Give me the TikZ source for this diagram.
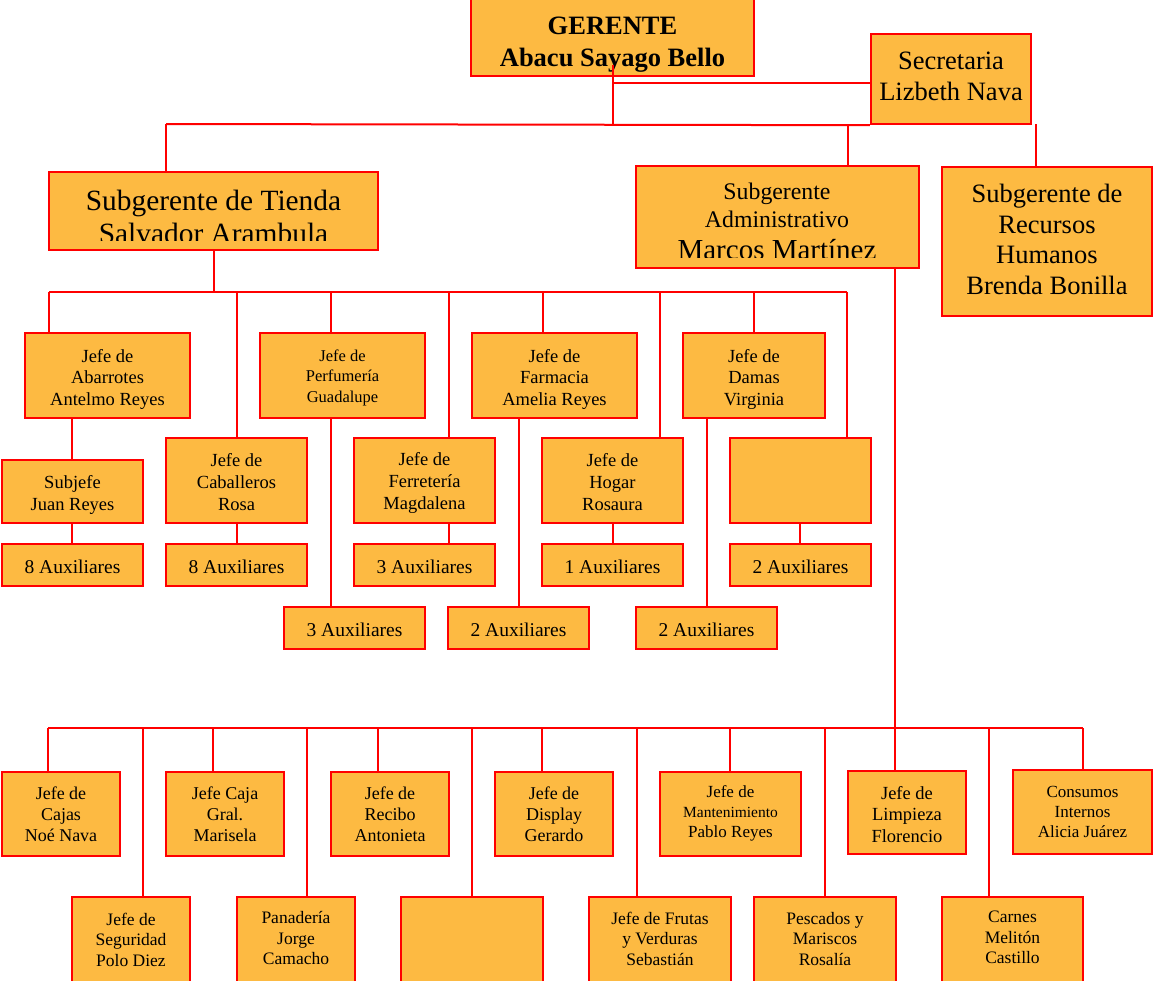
\documentclass[tikz,border=0pt]{standalone}
\usepackage{fontspec}
\setmainfont{Liberation Serif}
\usetikzlibrary{fit}
\definecolor{boxfill}{RGB}{253,186,66}
\definecolor{wirered}{RGB}{255,0,0}

% an org-chart box: name, text style, downward text offset (pt), two corners, text
\newcommand{\orgbox}[6]{%
  \node[box, fit={#4 #5}] (#1) {};
  \node[lbl, #2] (#1T) at ([yshift=-#3pt]#1.center) {#6};
}

\begin{document}
\begin{tikzpicture}[x=1pt,y=-1pt,
  box/.style={draw=wirered, line width=2.4pt, fill=boxfill, inner sep=0pt},
  wire/.style={draw=wirered, line width=2pt},
  lbl/.style={inner sep=0pt, align=center, text=black},
  fTop/.style={font=\fontsize{26.5}{31}\selectfont},
  fRH/.style={font=\fontsize{26.5}{30.7}\selectfont},
  fA/.style={font=\fontsize{18.5}{21.5}\selectfont},
  fAs/.style={font=\fontsize{16.5}{20.5}\selectfont},
  fB/.style={font=\fontsize{18.5}{22}\selectfont},
  fAux/.style={font=\fontsize{19.5}{22}\selectfont},
  fC/.style={font=\fontsize{18}{21}\selectfont},
  fCs/.style={font=\fontsize{17}{20}\selectfont},
  fD/.style={font=\fontsize{17.5}{20.5}\selectfont}
]
\clip (0,0) rectangle (1154,980);

% ---- top management ----
\node[box, fit={(471,-20) (754,76)}] (ger) {};
\node[lbl, font=\bfseries\fontsize{26.5}{32}\selectfont] (gerT) at (612.5,44.5) {GERENTE\\Abacu Sayago Bello};
\orgbox{secr}{fTop}{-3}{(871,34)}{(1031,124)}{Secretaria\\Lizbeth Nava}

\node[box, fit={(49,172) (378,250)}] (tienda) {};
\begin{scope}
  \clip (51,174) rectangle (376,240);
  \node[lbl, font=\fontsize{29.4}{33}\selectfont] (tiendaT) at (213.5,217) {Subgerente de Tienda\\Salvador Arambula};
\end{scope}

\node[box, fit={(636,166) (919,268)}] (admin) {};
\begin{scope}
  \clip (638,168) rectangle (917,257);
  \node[lbl, font=\fontsize{23.8}{28}\selectfont] (adminT1) at (777,194) {Subgerente};
  \node[lbl, font=\fontsize{23.8}{28}\selectfont] (adminT2) at (777,219) {Administrativo};
  \node[lbl, font=\fontsize{29}{30}\selectfont] (adminT3) at (777,250) {Marcos Martínez};
\end{scope}

\orgbox{rh}{fRH}{-2}{(942,167)}{(1152,316)}{Subgerente de\\Recursos\\Humanos\\Brenda Bonilla}

% ---- store departments ----
\orgbox{abar}{fA}{3.5}{(25,333)}{(190,418)}{Jefe de\\Abarrotes\\Antelmo Reyes}
\orgbox{perf}{fAs}{2}{(260,333)}{(425,418)}{Jefe de\\Perfumería\\Guadalupe}
\orgbox{farm}{fA}{3.5}{(472,333)}{(637,418)}{Jefe de\\Farmacia\\Amelia Reyes}
\orgbox{damas}{fA}{3.5}{(683,333)}{(825,418)}{Jefe de\\Damas\\Virginia}

\orgbox{subj}{fB}{3}{(2,460)}{(143,523)}{Subjefe\\Juan Reyes}
\orgbox{cab}{fB}{1.5}{(166,438)}{(307,523)}{Jefe de\\Caballeros\\Rosa}
\orgbox{ferr}{fB}{2.5}{(354,438)}{(495,523)}{Jefe de\\Ferretería\\Magdalena}
\orgbox{hogar}{fB}{1.5}{(542,438)}{(683,523)}{Jefe de\\Hogar\\Rosaura}
\node[box, fit={(730,438) (871,523)}] (vac1) {};

\orgbox{auxA}{fAux}{2}{(2,544)}{(143,586)}{8 Auxiliares}
\orgbox{auxB}{fAux}{2}{(166,544)}{(307,586)}{8 Auxiliares}
\orgbox{auxD}{fAux}{2}{(354,544)}{(495,586)}{3 Auxiliares}
\orgbox{auxF}{fAux}{2}{(542,544)}{(683,586)}{1 Auxiliares}
\orgbox{auxH}{fAux}{2}{(730,544)}{(871,586)}{2 Auxiliares}
\orgbox{auxC}{fAux}{2}{(284,607)}{(425,649)}{3 Auxiliares}
\orgbox{auxE}{fAux}{2}{(448,607)}{(589,649)}{2 Auxiliares}
\orgbox{auxG}{fAux}{2}{(636,607)}{(777,649)}{2 Auxiliares}

% ---- administrative departments ----
\orgbox{cajas}{fC}{0}{(2,772)}{(120,856)}{Jefe de\\Cajas\\Noé Nava}
\orgbox{cgral}{fC}{0}{(166,772)}{(284,856)}{Jefe Caja\\Gral.\\Marisela}
\orgbox{recibo}{fC}{0}{(331,772)}{(449,856)}{Jefe de\\Recibo\\Antonieta}
\orgbox{display}{fC}{0}{(495,772)}{(613,856)}{Jefe de\\Display\\Gerardo}
\orgbox{mant}{fCs}{-0.5}{(660,772)}{(801,856)}{Jefe de\\{\fontsize{15.5}{20}\selectfont Mantenimiento}\\Pablo Reyes}
\orgbox{limp}{fA}{2}{(848,771)}{(966,854)}{Jefe de\\Limpieza\\Florencio}
\orgbox{consumos}{fCs}{0}{(1013,770)}{(1152,854)}{Consumos\\Internos\\Alicia Juárez}

\orgbox{segur}{fD}{-0.5}{(72,897)}{(190,983)}{Jefe de\\Seguridad\\Polo Diez}
\orgbox{pan}{fD}{-2}{(237,897)}{(355,983)}{Panadería\\Jorge\\Camacho}
\node[box, fit={(401,897) (543,983)}] (vac2) {};
\orgbox{frutas}{fD}{-1.5}{(589,897)}{(731,983)}{Jefe de Frutas\\y Verduras\\Sebastián}
\orgbox{pesc}{fD}{-1}{(754,897)}{(896,983)}{Pescados y\\Mariscos\\Rosalía}
\orgbox{carnes}{fD}{-2.5}{(942,897)}{(1083,983)}{Carnes\\Melitón\\Castillo}

% ---- connectors: top level ----
\coordinate (gerOut)  at (613,65);
\coordinate (secJoin) at (871,83);
\coordinate (dTienda) at (166,124);
\coordinate (dAdmin)  at (848,124);
\coordinate (dRH)     at (1036,124);
\draw[wire] (gerOut) -- (gerOut |- secr.south);
\draw[wire] (gerOut |- secJoin) -- (secJoin);
\draw[wire] (dTienda) -- (secr.south west);
\draw[wire] (dTienda) -- (dTienda |- tienda.north);
\draw[wire] (dAdmin) -- (dAdmin |- admin.north);
\draw[wire] (dRH) -- (dRH |- rh.north);

% ---- connectors: store branch ----
\coordinate (tbL) at (49,292);
\coordinate (tbR) at (847,292);
\draw[wire] (tienda.south) -- (tienda.south |- tbL);
\draw[wire] (tbL) -- (tbR);
\foreach \x/\n in {49/abar,237/cab,331/perf,449/ferr,543/farm,660/hogar,754/damas,847/vac1}
  \draw[wire] (tbL -| \x,0) -- (\n.north -| \x,0);
\foreach \x/\a/\b in {72/abar/subj,72/subj/auxA,237/cab/auxB,331/perf/auxC,449/ferr/auxD,
                      519/farm/auxE,613/hogar/auxF,707/damas/auxG,800/vac1/auxH}
  \draw[wire] (\a.south -| \x,0) -- (\b.north -| \x,0);

% ---- connectors: administrative branch ----
\coordinate (abL) at (48,728);
\coordinate (abR) at (1083,728);
\draw[wire] (admin.south -| 895,0) -- (limp.north -| 895,0);
\draw[wire] (abL) -- (abR);
\foreach \x/\n in {48/cajas,143/segur,213/cgral,307/pan,378/recibo,472/vac2,542/display,
                   637/frutas,730/mant,825/pesc,989/carnes,1083/consumos}
  \draw[wire] (abL -| \x,0) -- (\n.north -| \x,0);
\end{tikzpicture}
\end{document}
